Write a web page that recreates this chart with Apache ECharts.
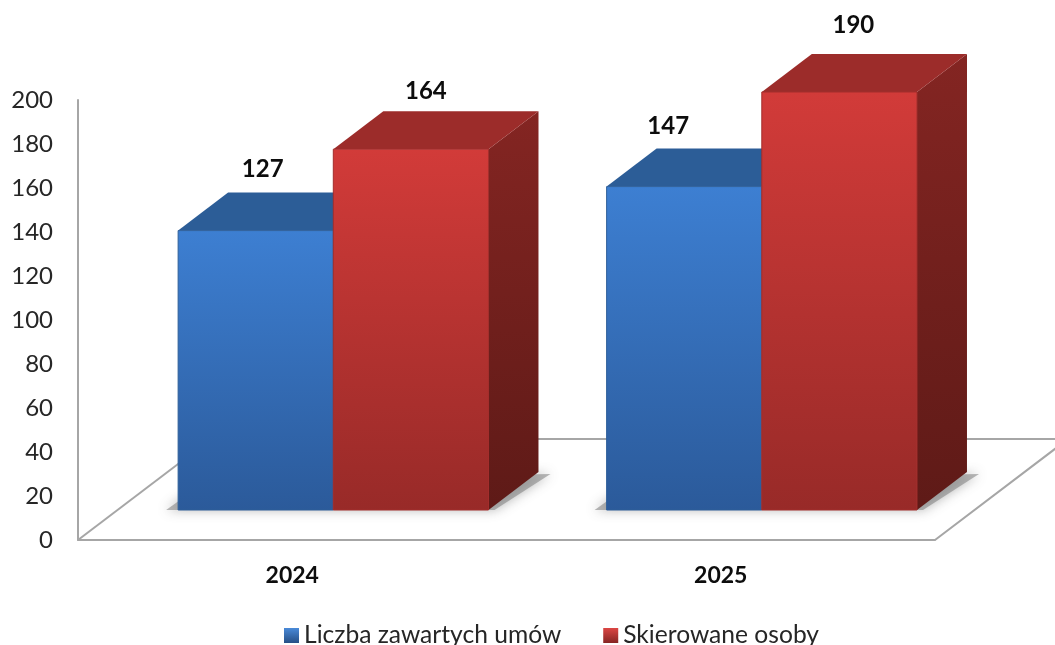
<!DOCTYPE html>
<html><head><meta charset="utf-8">
<style>html,body{margin:0;padding:0;background:#fff}#c{width:1055px;height:645px}</style>
<script src="https://cdn.jsdelivr.net/npm/echarts@6/dist/echarts.min.js"></script>
</head><body><div id="c"></div>
<script>
const categories = ['2024', '2025'];
const seriesNames = ['Liczba zawartych umów', 'Skierowane osoby'];
const contracts = [127, 147];
const referred = [164, 190];
const labelNudgeContracts = [[7, 3], [-16, 4]];
const labelNudgeReferred = [[15, 6], [14, -3]];

const FONT = 'Lato';
const LIFT = 30, DX = 50, DY = 38, BAR_W_RATIO = 155 / 428, PAIR_SHIFT_RATIO = 41 / 428;
const FLOOR_DX = 133, FLOOR_DY = 101;

const vgrad = (a, b) => new echarts.graphic.LinearGradient(0, 0, 0, 1, [{offset: 0, color: a}, {offset: 1, color: b}]);
const palette = [
  {front: ['#3d7fd2', '#2b5a9a'], top: '#2c5d97', side: ['#24507f', '#1c3f66'], edge: '#2f5f99'},
  {front: ['#d23b39', '#982a28'], top: '#9c2c2a', side: ['#842522', '#5e1a17'], edge: '#a32e2c'}
];

function barItem(s, nudges) {
  return function (params, api) {
    const i = api.value(0), v = api.value(1);
    const band = api.size([1, 0])[0];
    const w = band * BAR_W_RATIO;
    const cx = api.coord([i, 0])[0] + band * PAIR_SHIFT_RATIO;
    const x0 = s === 0 ? cx - w : cx, x1 = x0 + w;
    const yb = api.coord([i, 0])[1] - LIFT, yt = api.coord([i, v])[1] - LIFT;
    const c = palette[s], n = nudges[i];
    return {type: 'group', children: [
      {type: 'polygon', shape: {points: [[x1, yt], [x1 + DX, yt - DY], [x1 + DX, yb - DY], [x1, yb]]},
        style: {fill: vgrad(c.side[0], c.side[1])}},
      {type: 'polygon', shape: {points: [[x0, yt], [x0 + DX, yt - DY], [x1 + DX, yt - DY], [x1, yt]]},
        style: {fill: c.top}},
      {type: 'rect', shape: {x: x0, y: yt, width: w, height: yb - yt},
        style: {fill: vgrad(c.front[0], c.front[1]), stroke: c.edge, lineWidth: 1}},
      {type: 'text', x: (x0 + x1) / 2 + n[0], y: yt - 64 + n[1],
        style: {text: String(v), font: 'bold 24px ' + FONT, fill: '#0d0d0d', align: 'center', verticalAlign: 'middle'}}
    ]};
  };
}

function floorItem(params) {
  const g = params.coordSys, l = g.x, r = g.x + g.width, b = g.y + g.height;
  const line = {stroke: '#a6a6a6', lineWidth: 2};
  return {type: 'group', children: [
    {type: 'polyline', shape: {points: [[l + FLOOR_DX, b - FLOOR_DY], [l, b]]}, style: Object.assign({fill: null}, line)},
    {type: 'polyline', shape: {points: [[r, b], [r + FLOOR_DX, b - FLOOR_DY], [l + FLOOR_DX, b - FLOOR_DY]]}, style: Object.assign({fill: null}, line)}
  ]};
}

function shadowItem(params, api) {
  const i = api.value(0), band = api.size([1, 0])[0];
  const w = band * BAR_W_RATIO, cx = api.coord([i, 0])[0] + band * PAIR_SHIFT_RATIO;
  const x0 = cx - w, x1 = cx + w, yb = api.coord([i, 0])[1] - LIFT;
  return {type: 'polygon', shape: {points: [[x0 - 12, yb], [x0 + 30, yb - 30], [x1 + DX + 12, yb - DY + 2], [x1 + 6, yb]]},
    style: {fill: 'rgba(125,125,125,.55)', shadowColor: 'rgba(90,90,90,.8)', shadowBlur: 12}};
}

const chart = echarts.init(document.getElementById('c'), null, {renderer: 'canvas'});
chart.setOption({
  animation: false,
  backgroundColor: '#fff',
  grid: {left: 78, top: 100, width: 857, height: 440, containLabel: false},
  legend: {
    left: 279, top: 618, itemWidth: 15, itemHeight: 15, itemGap: 42, icon: 'rect',
    data: [
      {name: seriesNames[0], itemStyle: {color: vgrad('#4a8ad8', '#264f86')}},
      {name: seriesNames[1], itemStyle: {color: vgrad('#dc4644', '#862523')}}
    ],
    textStyle: {fontFamily: FONT, fontSize: 24.6, color: '#262626', padding: [0, 0, 0, 0]}
  },
  xAxis: {
    type: 'category', data: categories,
    axisLine: {show: true, lineStyle: {color: '#a6a6a6', width: 2}},
    axisTick: {show: false},
    axisLabel: {fontFamily: FONT, fontSize: 23, fontWeight: 'bold', color: '#0d0d0d', margin: 24}
  },
  yAxis: {
    type: 'value', min: 0, max: 200, interval: 20,
    splitLine: {show: false},
    axisLine: {show: true, lineStyle: {color: '#a6a6a6', width: 2}},
    axisTick: {show: false},
    axisLabel: {fontFamily: FONT, fontSize: 24, color: '#262626', margin: 25, padding: [14, 0, 0, 0]}
  },
  series: [
    {type: 'custom', name: 'floor', renderItem: floorItem, data: [[0, 0]], encode: {x: 0, y: 1}, silent: true, z: 1, clip: false},
    {type: 'custom', name: 'shadow', renderItem: shadowItem, data: categories.map((c, i) => [i, 0]), encode: {x: 0, y: 1}, silent: true, z: 2, clip: false},
    {type: 'custom', name: seriesNames[0], renderItem: barItem(0, labelNudgeContracts), z: 3, clip: false,
      data: contracts.map((v, i) => [i, v]), encode: {x: 0, y: 1}, itemStyle: {color: '#3a78c8'}},
    {type: 'custom', name: seriesNames[1], renderItem: barItem(1, labelNudgeReferred), z: 4, clip: false,
      data: referred.map((v, i) => [i, v]), encode: {x: 0, y: 1}, itemStyle: {color: '#c93836'}}
  ]
});
</script></body></html>
